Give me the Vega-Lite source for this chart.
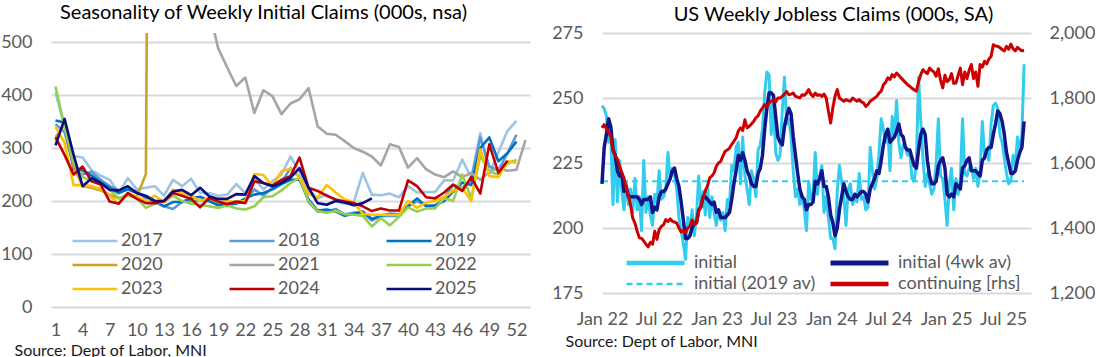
{
"$schema":"https://vega.github.io/schema/vega-lite/v6.json",
"background":"white",
"padding":{"left":0,"top":3,"right":0,"bottom":0},
"config":{"view":{"stroke":null},"font":"Lato",
"axis":{"labelFont":"Lato","labelFontSize":18,"labelColor":"#595959","titleFont":"Lato","domain":false,"ticks":false},
"legend":{"labelFont":"Lato","padding":0},
"title":{"font":"Lato","fontWeight":"normal","color":"#000000","fontSize":20}},
"datasets":{
"seasonal":[
{"year":"2017","week":1,"claims":405},{"year":"2017","week":2,"claims":340},{"year":"2017","week":3,"claims":285},{"year":"2017","week":4,"claims":282},{"year":"2017","week":5,"claims":258},{"year":"2017","week":6,"claims":248},{"year":"2017","week":7,"claims":240},{"year":"2017","week":8,"claims":215},{"year":"2017","week":9,"claims":243},{"year":"2017","week":10,"claims":222},{"year":"2017","week":11,"claims":225},{"year":"2017","week":12,"claims":228},{"year":"2017","week":13,"claims":210},{"year":"2017","week":14,"claims":240},{"year":"2017","week":15,"claims":228},{"year":"2017","week":16,"claims":242},{"year":"2017","week":17,"claims":215},{"year":"2017","week":18,"claims":215},{"year":"2017","week":19,"claims":210},{"year":"2017","week":20,"claims":212},{"year":"2017","week":21,"claims":232},{"year":"2017","week":22,"claims":215},{"year":"2017","week":23,"claims":242},{"year":"2017","week":24,"claims":222},{"year":"2017","week":25,"claims":237},{"year":"2017","week":26,"claims":250},{"year":"2017","week":27,"claims":284},{"year":"2017","week":28,"claims":255},{"year":"2017","week":29,"claims":220},{"year":"2017","week":30,"claims":205},{"year":"2017","week":31,"claims":212},{"year":"2017","week":32,"claims":200},{"year":"2017","week":33,"claims":195},{"year":"2017","week":34,"claims":198},{"year":"2017","week":35,"claims":253},{"year":"2017","week":36,"claims":212},{"year":"2017","week":37,"claims":211},{"year":"2017","week":38,"claims":214},{"year":"2017","week":39,"claims":207},{"year":"2017","week":40,"claims":228},{"year":"2017","week":41,"claims":216},{"year":"2017","week":42,"claims":217},{"year":"2017","week":43,"claims":217},{"year":"2017","week":44,"claims":239},{"year":"2017","week":45,"claims":239},{"year":"2017","week":46,"claims":278},{"year":"2017","week":47,"claims":244},{"year":"2017","week":48,"claims":328},{"year":"2017","week":49,"claims":251},{"year":"2017","week":50,"claims":292},{"year":"2017","week":51,"claims":332},{"year":"2017","week":52,"claims":351},
{"year":"2018","week":1,"claims":345},{"year":"2018","week":2,"claims":330},{"year":"2018","week":3,"claims":265},{"year":"2018","week":4,"claims":250},{"year":"2018","week":5,"claims":255},{"year":"2018","week":6,"claims":240},{"year":"2018","week":7,"claims":228},{"year":"2018","week":8,"claims":220},{"year":"2018","week":9,"claims":222},{"year":"2018","week":10,"claims":218},{"year":"2018","week":11,"claims":205},{"year":"2018","week":12,"claims":198},{"year":"2018","week":13,"claims":190},{"year":"2018","week":14,"claims":185},{"year":"2018","week":15,"claims":198},{"year":"2018","week":16,"claims":200},{"year":"2018","week":17,"claims":200},{"year":"2018","week":18,"claims":200},{"year":"2018","week":19,"claims":195},{"year":"2018","week":20,"claims":190},{"year":"2018","week":21,"claims":196},{"year":"2018","week":22,"claims":198},{"year":"2018","week":23,"claims":222},{"year":"2018","week":24,"claims":210},{"year":"2018","week":25,"claims":225},{"year":"2018","week":26,"claims":235},{"year":"2018","week":27,"claims":262},{"year":"2018","week":28,"claims":245},{"year":"2018","week":29,"claims":198},{"year":"2018","week":30,"claims":180},{"year":"2018","week":31,"claims":180},{"year":"2018","week":32,"claims":185},{"year":"2018","week":33,"claims":175},{"year":"2018","week":34,"claims":178},{"year":"2018","week":35,"claims":178},{"year":"2018","week":36,"claims":163},{"year":"2018","week":37,"claims":172},{"year":"2018","week":38,"claims":172},{"year":"2018","week":39,"claims":172},{"year":"2018","week":40,"claims":190},{"year":"2018","week":41,"claims":200},{"year":"2018","week":42,"claims":192},{"year":"2018","week":43,"claims":190},{"year":"2018","week":44,"claims":205},{"year":"2018","week":45,"claims":230},{"year":"2018","week":46,"claims":225},{"year":"2018","week":47,"claims":240},{"year":"2018","week":48,"claims":320},{"year":"2018","week":49,"claims":265},{"year":"2018","week":50,"claims":258},{"year":"2018","week":51,"claims":290},{"year":"2018","week":52,"claims":325},
{"year":"2019","week":1,"claims":352},{"year":"2019","week":2,"claims":348},{"year":"2019","week":3,"claims":260},{"year":"2019","week":4,"claims":258},{"year":"2019","week":5,"claims":248},{"year":"2019","week":6,"claims":235},{"year":"2019","week":7,"claims":225},{"year":"2019","week":8,"claims":215},{"year":"2019","week":9,"claims":222},{"year":"2019","week":10,"claims":215},{"year":"2019","week":11,"claims":210},{"year":"2019","week":12,"claims":200},{"year":"2019","week":13,"claims":190},{"year":"2019","week":14,"claims":198},{"year":"2019","week":15,"claims":198},{"year":"2019","week":16,"claims":205},{"year":"2019","week":17,"claims":208},{"year":"2019","week":18,"claims":200},{"year":"2019","week":19,"claims":192},{"year":"2019","week":20,"claims":195},{"year":"2019","week":21,"claims":195},{"year":"2019","week":22,"claims":205},{"year":"2019","week":23,"claims":212},{"year":"2019","week":24,"claims":215},{"year":"2019","week":25,"claims":222},{"year":"2019","week":26,"claims":232},{"year":"2019","week":27,"claims":240},{"year":"2019","week":28,"claims":240},{"year":"2019","week":29,"claims":203},{"year":"2019","week":30,"claims":182},{"year":"2019","week":31,"claims":184},{"year":"2019","week":32,"claims":180},{"year":"2019","week":33,"claims":172},{"year":"2019","week":34,"claims":176},{"year":"2019","week":35,"claims":180},{"year":"2019","week":36,"claims":166},{"year":"2019","week":37,"claims":172},{"year":"2019","week":38,"claims":176},{"year":"2019","week":39,"claims":175},{"year":"2019","week":40,"claims":190},{"year":"2019","week":41,"claims":205},{"year":"2019","week":42,"claims":190},{"year":"2019","week":43,"claims":192},{"year":"2019","week":44,"claims":200},{"year":"2019","week":45,"claims":218},{"year":"2019","week":46,"claims":235},{"year":"2019","week":47,"claims":230},{"year":"2019","week":48,"claims":300},{"year":"2019","week":49,"claims":320},{"year":"2019","week":50,"claims":275},{"year":"2019","week":51,"claims":290},{"year":"2019","week":52,"claims":312},
{"year":"2020","week":1,"claims":320},{"year":"2020","week":2,"claims":345},{"year":"2020","week":3,"claims":265},{"year":"2020","week":4,"claims":228},{"year":"2020","week":5,"claims":225},{"year":"2020","week":6,"claims":220},{"year":"2020","week":7,"claims":212},{"year":"2020","week":8,"claims":205},{"year":"2020","week":9,"claims":212},{"year":"2020","week":10,"claims":208},{"year":"2020","week":11,"claims":251},{"year":"2020","week":12,"claims":2920},
{"year":"2021","week":17,"claims":600},{"year":"2021","week":18,"claims":560},{"year":"2021","week":19,"claims":488},{"year":"2021","week":20,"claims":452},{"year":"2021","week":21,"claims":417},{"year":"2021","week":22,"claims":433},{"year":"2021","week":23,"claims":366},{"year":"2021","week":24,"claims":409},{"year":"2021","week":25,"claims":398},{"year":"2021","week":26,"claims":364},{"year":"2021","week":27,"claims":384},{"year":"2021","week":28,"claims":392},{"year":"2021","week":29,"claims":413},{"year":"2021","week":30,"claims":341},{"year":"2021","week":31,"claims":327},{"year":"2021","week":32,"claims":325},{"year":"2021","week":33,"claims":313},{"year":"2021","week":34,"claims":300},{"year":"2021","week":35,"claims":293},{"year":"2021","week":36,"claims":284},{"year":"2021","week":37,"claims":267},{"year":"2021","week":38,"claims":307},{"year":"2021","week":39,"claims":302},{"year":"2021","week":40,"claims":263},{"year":"2021","week":41,"claims":281},{"year":"2021","week":42,"claims":260},{"year":"2021","week":43,"claims":250},{"year":"2021","week":44,"claims":245},{"year":"2021","week":45,"claims":256},{"year":"2021","week":46,"claims":245},{"year":"2021","week":47,"claims":253},{"year":"2021","week":48,"claims":240},{"year":"2021","week":49,"claims":255},{"year":"2021","week":50,"claims":262},{"year":"2021","week":51,"claims":257},{"year":"2021","week":52,"claims":259},{"year":"2021","week":53,"claims":315},
{"year":"2022","week":1,"claims":416},{"year":"2022","week":2,"claims":340},{"year":"2022","week":3,"claims":275},{"year":"2022","week":4,"claims":245},{"year":"2022","week":5,"claims":238},{"year":"2022","week":6,"claims":232},{"year":"2022","week":7,"claims":222},{"year":"2022","week":8,"claims":205},{"year":"2022","week":9,"claims":210},{"year":"2022","week":10,"claims":205},{"year":"2022","week":11,"claims":187},{"year":"2022","week":12,"claims":195},{"year":"2022","week":13,"claims":198},{"year":"2022","week":14,"claims":210},{"year":"2022","week":15,"claims":200},{"year":"2022","week":16,"claims":195},{"year":"2022","week":17,"claims":193},{"year":"2022","week":18,"claims":190},{"year":"2022","week":19,"claims":187},{"year":"2022","week":20,"claims":192},{"year":"2022","week":21,"claims":186},{"year":"2022","week":22,"claims":184},{"year":"2022","week":23,"claims":190},{"year":"2022","week":24,"claims":207},{"year":"2022","week":25,"claims":209},{"year":"2022","week":26,"claims":220},{"year":"2022","week":27,"claims":234},{"year":"2022","week":28,"claims":244},{"year":"2022","week":29,"claims":200},{"year":"2022","week":30,"claims":181},{"year":"2022","week":31,"claims":178},{"year":"2022","week":32,"claims":181},{"year":"2022","week":33,"claims":175},{"year":"2022","week":34,"claims":174},{"year":"2022","week":35,"claims":172},{"year":"2022","week":36,"claims":152},{"year":"2022","week":37,"claims":168},{"year":"2022","week":38,"claims":154},{"year":"2022","week":39,"claims":170},{"year":"2022","week":40,"claims":188},{"year":"2022","week":41,"claims":180},{"year":"2022","week":42,"claims":186},{"year":"2022","week":43,"claims":186},{"year":"2022","week":44,"claims":205},{"year":"2022","week":45,"claims":200},{"year":"2022","week":46,"claims":250},{"year":"2022","week":47,"claims":205},{"year":"2022","week":48,"claims":285},{"year":"2022","week":49,"claims":255},{"year":"2022","week":50,"claims":250},{"year":"2022","week":51,"claims":270},{"year":"2022","week":52,"claims":278},
{"year":"2023","week":1,"claims":340},{"year":"2023","week":2,"claims":310},{"year":"2023","week":3,"claims":230},{"year":"2023","week":4,"claims":230},{"year":"2023","week":5,"claims":228},{"year":"2023","week":6,"claims":222},{"year":"2023","week":7,"claims":210},{"year":"2023","week":8,"claims":195},{"year":"2023","week":9,"claims":215},{"year":"2023","week":10,"claims":208},{"year":"2023","week":11,"claims":200},{"year":"2023","week":12,"claims":210},{"year":"2023","week":13,"claims":198},{"year":"2023","week":14,"claims":222},{"year":"2023","week":15,"claims":215},{"year":"2023","week":16,"claims":210},{"year":"2023","week":17,"claims":200},{"year":"2023","week":18,"claims":205},{"year":"2023","week":19,"claims":198},{"year":"2023","week":20,"claims":200},{"year":"2023","week":21,"claims":198},{"year":"2023","week":22,"claims":200},{"year":"2023","week":23,"claims":251},{"year":"2023","week":24,"claims":249},{"year":"2023","week":25,"claims":228},{"year":"2023","week":26,"claims":256},{"year":"2023","week":27,"claims":261},{"year":"2023","week":28,"claims":244},{"year":"2023","week":29,"claims":214},{"year":"2023","week":30,"claims":206},{"year":"2023","week":31,"claims":230},{"year":"2023","week":32,"claims":216},{"year":"2023","week":33,"claims":203},{"year":"2023","week":34,"claims":197},{"year":"2023","week":35,"claims":176},{"year":"2023","week":36,"claims":174},{"year":"2023","week":37,"claims":174},{"year":"2023","week":38,"claims":174},{"year":"2023","week":39,"claims":174},{"year":"2023","week":40,"claims":200},{"year":"2023","week":41,"claims":187},{"year":"2023","week":42,"claims":197},{"year":"2023","week":43,"claims":200},{"year":"2023","week":44,"claims":207},{"year":"2023","week":45,"claims":220},{"year":"2023","week":46,"claims":225},{"year":"2023","week":47,"claims":200},{"year":"2023","week":48,"claims":297},{"year":"2023","week":49,"claims":247},{"year":"2023","week":50,"claims":245},{"year":"2023","week":51,"claims":275},{"year":"2023","week":52,"claims":272},
{"year":"2024","week":1,"claims":320},{"year":"2024","week":2,"claims":287},{"year":"2024","week":3,"claims":250},{"year":"2024","week":4,"claims":265},{"year":"2024","week":5,"claims":237},{"year":"2024","week":6,"claims":231},{"year":"2024","week":7,"claims":199},{"year":"2024","week":8,"claims":195},{"year":"2024","week":9,"claims":215},{"year":"2024","week":10,"claims":204},{"year":"2024","week":11,"claims":196},{"year":"2024","week":12,"claims":196},{"year":"2024","week":13,"claims":200},{"year":"2024","week":14,"claims":215},{"year":"2024","week":15,"claims":210},{"year":"2024","week":16,"claims":204},{"year":"2024","week":17,"claims":188},{"year":"2024","week":18,"claims":206},{"year":"2024","week":19,"claims":199},{"year":"2024","week":20,"claims":194},{"year":"2024","week":21,"claims":199},{"year":"2024","week":22,"claims":196},{"year":"2024","week":23,"claims":237},{"year":"2024","week":24,"claims":234},{"year":"2024","week":25,"claims":229},{"year":"2024","week":26,"claims":240},{"year":"2024","week":27,"claims":247},{"year":"2024","week":28,"claims":282},{"year":"2024","week":29,"claims":225},{"year":"2024","week":30,"claims":219},{"year":"2024","week":31,"claims":210},{"year":"2024","week":32,"claims":203},{"year":"2024","week":33,"claims":199},{"year":"2024","week":34,"claims":196},{"year":"2024","week":35,"claims":190},{"year":"2024","week":36,"claims":181},{"year":"2024","week":37,"claims":186},{"year":"2024","week":38,"claims":182},{"year":"2024","week":39,"claims":182},{"year":"2024","week":40,"claims":239},{"year":"2024","week":41,"claims":228},{"year":"2024","week":42,"claims":207},{"year":"2024","week":43,"claims":205},{"year":"2024","week":44,"claims":216},{"year":"2024","week":45,"claims":231},{"year":"2024","week":46,"claims":219},{"year":"2024","week":47,"claims":245},{"year":"2024","week":48,"claims":214},{"year":"2024","week":49,"claims":307},{"year":"2024","week":50,"claims":253},{"year":"2024","week":51,"claims":276},
{"year":"2025","week":1,"claims":305},{"year":"2025","week":2,"claims":355},{"year":"2025","week":3,"claims":287},{"year":"2025","week":4,"claims":228},{"year":"2025","week":5,"claims":243},{"year":"2025","week":6,"claims":234},{"year":"2025","week":7,"claims":221},{"year":"2025","week":8,"claims":220},{"year":"2025","week":9,"claims":228},{"year":"2025","week":10,"claims":215},{"year":"2025","week":11,"claims":209},{"year":"2025","week":12,"claims":200},{"year":"2025","week":13,"claims":200},{"year":"2025","week":14,"claims":218},{"year":"2025","week":15,"claims":221},{"year":"2025","week":16,"claims":211},{"year":"2025","week":17,"claims":225},{"year":"2025","week":18,"claims":209},{"year":"2025","week":19,"claims":204},{"year":"2025","week":20,"claims":204},{"year":"2025","week":21,"claims":213},{"year":"2025","week":22,"claims":212},{"year":"2025","week":23,"claims":247},{"year":"2025","week":24,"claims":234},{"year":"2025","week":25,"claims":228},{"year":"2025","week":26,"claims":234},{"year":"2025","week":27,"claims":244},{"year":"2025","week":28,"claims":262},{"year":"2025","week":29,"claims":225},{"year":"2025","week":30,"claims":196},{"year":"2025","week":31,"claims":193},{"year":"2025","week":32,"claims":200},{"year":"2025","week":33,"claims":197},{"year":"2025","week":34,"claims":192},{"year":"2025","week":35,"claims":196},{"year":"2025","week":36,"claims":205}
],
"jobless":[
{"date":"2022-01-01","initial":247,"avg4":217,"cont":1708},{"date":"2022-01-08","initial":246,"avg4":231,"cont":1718},{"date":"2022-01-15","initial":243,"avg4":236,"cont":1705},{"date":"2022-01-22","initial":233,"avg4":242,"cont":1695},{"date":"2022-01-29","initial":235,"avg4":239,"cont":1680},{"date":"2022-02-05","initial":209,"avg4":230,"cont":1640},{"date":"2022-02-12","initial":234,"avg4":228,"cont":1622},{"date":"2022-02-19","initial":210,"avg4":222,"cont":1612},{"date":"2022-02-26","initial":226,"avg4":220,"cont":1590},{"date":"2022-03-05","initial":214,"avg4":221,"cont":1570},
{"date":"2022-03-12","initial":207,"avg4":214,"cont":1554},{"date":"2022-03-19","initial":218,"avg4":216,"cont":1523},{"date":"2022-03-26","initial":209,"avg4":212,"cont":1500},{"date":"2022-04-02","initial":215,"avg4":212,"cont":1470},{"date":"2022-04-09","initial":206,"avg4":212,"cont":1430},{"date":"2022-04-16","initial":219,"avg4":212,"cont":1415},{"date":"2022-04-23","initial":207,"avg4":212,"cont":1390},{"date":"2022-04-30","initial":212,"avg4":211,"cont":1370},{"date":"2022-05-07","initial":199,"avg4":209,"cont":1368},{"date":"2022-05-14","initial":226,"avg4":211,"cont":1360},
{"date":"2022-05-21","initial":206,"avg4":211,"cont":1350},{"date":"2022-05-28","initial":212,"avg4":211,"cont":1342},{"date":"2022-06-04","initial":205,"avg4":212,"cont":1356},{"date":"2022-06-11","initial":201,"avg4":206,"cont":1350},{"date":"2022-06-18","initial":213,"avg4":208,"cont":1390},{"date":"2022-06-25","initial":210,"avg4":207,"cont":1365},{"date":"2022-07-02","initial":222,"avg4":212,"cont":1395},{"date":"2022-07-09","initial":211,"avg4":214,"cont":1405},{"date":"2022-07-16","initial":212,"avg4":214,"cont":1410},{"date":"2022-07-23","initial":215,"avg4":215,"cont":1426},
{"date":"2022-07-30","initial":229,"avg4":217,"cont":1420},{"date":"2022-08-06","initial":219,"avg4":219,"cont":1428},{"date":"2022-08-13","initial":223,"avg4":222,"cont":1421},{"date":"2022-08-20","initial":220,"avg4":223,"cont":1418},{"date":"2022-08-27","initial":215,"avg4":219,"cont":1415},{"date":"2022-09-03","initial":204,"avg4":216,"cont":1400},{"date":"2022-09-10","initial":199,"avg4":210,"cont":1388},{"date":"2022-09-17","initial":194,"avg4":203,"cont":1392},{"date":"2022-09-24","initial":188,"avg4":196,"cont":1385},{"date":"2022-10-01","initial":204,"avg4":196,"cont":1400},
{"date":"2022-10-08","initial":200,"avg4":197,"cont":1405},{"date":"2022-10-15","initial":207,"avg4":200,"cont":1425},{"date":"2022-10-22","initial":197,"avg4":202,"cont":1410},{"date":"2022-10-29","initial":205,"avg4":202,"cont":1415},{"date":"2022-11-05","initial":220,"avg4":207,"cont":1451},{"date":"2022-11-12","initial":208,"avg4":208,"cont":1470},{"date":"2022-11-19","initial":214,"avg4":212,"cont":1492},{"date":"2022-11-26","initial":205,"avg4":212,"cont":1515},{"date":"2022-12-03","initial":216,"avg4":211,"cont":1530},{"date":"2022-12-10","initial":204,"avg4":210,"cont":1554},
{"date":"2022-12-17","initial":212,"avg4":209,"cont":1560},{"date":"2022-12-24","initial":206,"avg4":210,"cont":1570},{"date":"2022-12-31","initial":201,"avg4":206,"cont":1590},{"date":"2023-01-07","initial":207,"avg4":207,"cont":1600},{"date":"2023-01-14","initial":203,"avg4":204,"cont":1605},{"date":"2023-01-21","initial":206,"avg4":204,"cont":1621},{"date":"2023-01-28","initial":199,"avg4":204,"cont":1636},{"date":"2023-02-04","initial":211,"avg4":205,"cont":1640},{"date":"2023-02-11","initial":209,"avg4":206,"cont":1646},{"date":"2023-02-18","initial":224,"avg4":211,"cont":1657},
{"date":"2023-02-25","initial":222,"avg4":217,"cont":1667},{"date":"2023-03-04","initial":231,"avg4":222,"cont":1677},{"date":"2023-03-11","initial":233,"avg4":228,"cont":1698},{"date":"2023-03-18","initial":217,"avg4":226,"cont":1708},{"date":"2023-03-25","initial":235,"avg4":229,"cont":1700},{"date":"2023-04-01","initial":220,"avg4":226,"cont":1733},{"date":"2023-04-08","initial":215,"avg4":222,"cont":1708},{"date":"2023-04-15","initial":209,"avg4":220,"cont":1713},{"date":"2023-04-22","initial":222,"avg4":217,"cont":1720},{"date":"2023-04-29","initial":219,"avg4":216,"cont":1728},
{"date":"2023-05-06","initial":212,"avg4":216,"cont":1739},{"date":"2023-05-13","initial":230,"avg4":221,"cont":1745},{"date":"2023-05-20","initial":232,"avg4":223,"cont":1760},{"date":"2023-05-27","initial":238,"avg4":228,"cont":1769},{"date":"2023-06-03","initial":252,"avg4":238,"cont":1780},{"date":"2023-06-10","initial":260,"avg4":246,"cont":1772},{"date":"2023-06-17","initial":259,"avg4":252,"cont":1785},{"date":"2023-06-24","initial":236,"avg4":252,"cont":1790},{"date":"2023-07-01","initial":248,"avg4":251,"cont":1795},{"date":"2023-07-08","initial":229,"avg4":243,"cont":1788},
{"date":"2023-07-15","initial":226,"avg4":235,"cont":1800},{"date":"2023-07-22","initial":228,"avg4":233,"cont":1800},{"date":"2023-07-29","initial":245,"avg4":232,"cont":1805},{"date":"2023-08-05","initial":258,"avg4":239,"cont":1812},{"date":"2023-08-12","initial":240,"avg4":243,"cont":1820},{"date":"2023-08-19","initial":242,"avg4":246,"cont":1810},{"date":"2023-08-26","initial":235,"avg4":244,"cont":1812},{"date":"2023-09-02","initial":222,"avg4":235,"cont":1815},{"date":"2023-09-09","initial":212,"avg4":228,"cont":1805},{"date":"2023-09-16","initial":215,"avg4":221,"cont":1803},
{"date":"2023-09-23","initial":209,"avg4":215,"cont":1800},{"date":"2023-09-30","initial":213,"avg4":212,"cont":1810},{"date":"2023-10-07","initial":207,"avg4":211,"cont":1808},{"date":"2023-10-14","initial":199,"avg4":207,"cont":1815},{"date":"2023-10-21","initial":218,"avg4":209,"cont":1826},{"date":"2023-10-28","initial":211,"avg4":209,"cont":1812},{"date":"2023-11-04","initial":213,"avg4":210,"cont":1805},{"date":"2023-11-11","initial":229,"avg4":218,"cont":1815},{"date":"2023-11-18","initial":213,"avg4":217,"cont":1808},{"date":"2023-11-25","initial":220,"avg4":219,"cont":1810},
{"date":"2023-12-02","initial":224,"avg4":222,"cont":1805},{"date":"2023-12-09","initial":206,"avg4":216,"cont":1812},{"date":"2023-12-16","initial":212,"avg4":216,"cont":1800},{"date":"2023-12-23","initial":204,"avg4":212,"cont":1759},{"date":"2023-12-30","initial":196,"avg4":205,"cont":1723},{"date":"2024-01-06","initial":196,"avg4":202,"cont":1770},{"date":"2024-01-13","initial":192,"avg4":197,"cont":1805},{"date":"2024-01-20","initial":214,"avg4":200,"cont":1826},{"date":"2024-01-27","initial":224,"avg4":207,"cont":1800},{"date":"2024-02-03","initial":218,"avg4":212,"cont":1795},
{"date":"2024-02-10","initial":212,"avg4":217,"cont":1790},{"date":"2024-02-17","initial":201,"avg4":214,"cont":1795},{"date":"2024-02-24","initial":215,"avg4":212,"cont":1792},{"date":"2024-03-02","initial":217,"avg4":211,"cont":1790},{"date":"2024-03-09","initial":209,"avg4":211,"cont":1800},{"date":"2024-03-16","initial":212,"avg4":213,"cont":1795},{"date":"2024-03-23","initial":210,"avg4":212,"cont":1790},{"date":"2024-03-30","initial":221,"avg4":213,"cont":1795},{"date":"2024-04-06","initial":211,"avg4":214,"cont":1788},{"date":"2024-04-13","initial":212,"avg4":214,"cont":1785},
{"date":"2024-04-20","initial":207,"avg4":213,"cont":1774},{"date":"2024-04-27","initial":208,"avg4":210,"cont":1780},{"date":"2024-05-04","initial":231,"avg4":215,"cont":1790},{"date":"2024-05-11","initial":222,"avg4":217,"cont":1795},{"date":"2024-05-18","initial":215,"avg4":219,"cont":1800},{"date":"2024-05-25","initial":219,"avg4":222,"cont":1805},{"date":"2024-06-01","initial":229,"avg4":221,"cont":1815},{"date":"2024-06-08","initial":242,"avg4":226,"cont":1821},{"date":"2024-06-15","initial":238,"avg4":232,"cont":1841},{"date":"2024-06-22","initial":233,"avg4":236,"cont":1848},
{"date":"2024-06-29","initial":238,"avg4":238,"cont":1862},{"date":"2024-07-06","initial":222,"avg4":233,"cont":1857},{"date":"2024-07-13","initial":243,"avg4":234,"cont":1872},{"date":"2024-07-20","initial":235,"avg4":235,"cont":1865},{"date":"2024-07-27","initial":249,"avg4":237,"cont":1877},{"date":"2024-08-03","initial":233,"avg4":240,"cont":1870},{"date":"2024-08-10","initial":227,"avg4":236,"cont":1862},{"date":"2024-08-17","initial":232,"avg4":235,"cont":1855},{"date":"2024-08-24","initial":231,"avg4":231,"cont":1848},{"date":"2024-08-31","initial":228,"avg4":230,"cont":1841},
{"date":"2024-09-07","initial":230,"avg4":230,"cont":1836},{"date":"2024-09-14","initial":219,"avg4":227,"cont":1830},{"date":"2024-09-21","initial":218,"avg4":224,"cont":1825},{"date":"2024-09-28","initial":225,"avg4":223,"cont":1821},{"date":"2024-10-05","initial":258,"avg4":230,"cont":1850},{"date":"2024-10-12","initial":241,"avg4":236,"cont":1872},{"date":"2024-10-19","initial":227,"avg4":238,"cont":1887},{"date":"2024-10-26","initial":216,"avg4":236,"cont":1880},{"date":"2024-11-02","initial":221,"avg4":226,"cont":1875},{"date":"2024-11-09","initial":217,"avg4":220,"cont":1892},
{"date":"2024-11-16","initial":213,"avg4":217,"cont":1885},{"date":"2024-11-23","initial":215,"avg4":217,"cont":1880},{"date":"2024-11-30","initial":225,"avg4":218,"cont":1867},{"date":"2024-12-07","initial":242,"avg4":224,"cont":1890},{"date":"2024-12-14","initial":220,"avg4":226,"cont":1855},{"date":"2024-12-21","initial":219,"avg4":227,"cont":1831},{"date":"2024-12-28","initial":211,"avg4":223,"cont":1870},{"date":"2025-01-04","initial":201,"avg4":213,"cont":1850},{"date":"2025-01-11","initial":217,"avg4":212,"cont":1857},{"date":"2025-01-18","initial":223,"avg4":213,"cont":1875},
{"date":"2025-01-25","initial":207,"avg4":212,"cont":1845},{"date":"2025-02-01","initial":219,"avg4":217,"cont":1846},{"date":"2025-02-08","initial":213,"avg4":216,"cont":1870},{"date":"2025-02-15","initial":219,"avg4":215,"cont":1892},{"date":"2025-02-22","initial":242,"avg4":223,"cont":1841},{"date":"2025-03-01","initial":221,"avg4":224,"cont":1880},{"date":"2025-03-08","initial":220,"avg4":226,"cont":1860},{"date":"2025-03-15","initial":223,"avg4":227,"cont":1885},{"date":"2025-03-22","initial":224,"avg4":222,"cont":1903},{"date":"2025-03-29","initial":219,"avg4":222,"cont":1860},
{"date":"2025-04-05","initial":223,"avg4":222,"cont":1880},{"date":"2025-04-12","initial":216,"avg4":221,"cont":1836},{"date":"2025-04-19","initial":222,"avg4":220,"cont":1903},{"date":"2025-04-26","initial":241,"avg4":226,"cont":1895},{"date":"2025-05-03","initial":228,"avg4":227,"cont":1913},{"date":"2025-05-10","initial":229,"avg4":230,"cont":1905},{"date":"2025-05-17","initial":226,"avg4":231,"cont":1920},{"date":"2025-05-24","initial":240,"avg4":231,"cont":1928},{"date":"2025-05-31","initial":247,"avg4":236,"cont":1964},{"date":"2025-06-07","initial":248,"avg4":240,"cont":1960},
{"date":"2025-06-14","initial":246,"avg4":245,"cont":1959},{"date":"2025-06-21","initial":236,"avg4":244,"cont":1955},{"date":"2025-06-28","initial":233,"avg4":241,"cont":1949},{"date":"2025-07-05","initial":227,"avg4":236,"cont":1945},{"date":"2025-07-12","initial":221,"avg4":229,"cont":1959},{"date":"2025-07-19","initial":217,"avg4":225,"cont":1950},{"date":"2025-07-26","initial":218,"avg4":221,"cont":1966},{"date":"2025-08-02","initial":228,"avg4":221,"cont":1951},{"date":"2025-08-09","initial":224,"avg4":222,"cont":1945},{"date":"2025-08-16","initial":235,"avg4":226,"cont":1956},
{"date":"2025-08-23","initial":229,"avg4":229,"cont":1950},{"date":"2025-08-30","initial":236,"avg4":231,"cont":1945},{"date":"2025-09-06","initial":263,"avg4":241,"cont":1946}
],
"avg2019":[{"date":"2022-01-01","level":218},{"date":"2025-09-06","level":218}]
},
"concat":[
{
"width":479,"height":274,
"title":{"text":"Seasonality of Weekly Initial Claims (000s, nsa)","anchor":"middle","dx":-27,"offset":10},
"data":{"name":"seasonal"},
"mark":{"type":"line","clip":true,"strokeJoin":"round"},
"encoding":{
"x":{"field":"week","type":"quantitative","scale":{"domain":[0.5,53.5],"nice":false,"zero":false},
"axis":{"values":[1,4,7,10,13,16,19,22,25,28,31,34,37,40,43,46,49,52],"grid":false,"labelPadding":14,"labelFlush":false,"labelOverlap":false,
"title":"Source: Dept of Labor, MNI","titleFontSize":16,"titleFontWeight":"normal","titleColor":"#1a1a1a","titleAnchor":"start","titleAlign":"left","titleBaseline":"middle","titleX":-37,"titleY":43}},
"y":{"field":"claims","type":"quantitative","scale":{"domain":[0,517],"nice":false},
"axis":{"values":[0,100,200,300,400,500],"grid":true,"gridColor":"#D9D9D9","gridWidth":2,"labelPadding":19,"title":null}},
"color":{"field":"year","type":"nominal",
"scale":{"domain":["2017","2018","2019","2020","2021","2022","2023","2024","2025"],"range":["#9DC3E6","#5B9BD5","#0070C0","#C9A227","#A5A5A5","#92D050","#FFC000","#C00000","#0C0C80"]},
"legend":{"orient":"none","legendX":20,"legendY":197,"columns":3,"direction":"horizontal","title":null,"symbolType":"stroke","symbolSize":2025,"symbolStrokeWidth":3.5,"clipHeight":22,"rowPadding":2,"columnPadding":65,"labelFontSize":18,"labelColor":"#595959","labelOffset":2,
"encode":{"symbols":{"update":{"strokeWidth":{"signal":"datum.value === '2025' ? 6 : 3.5"}}}}}},
"strokeWidth":{"field":"year","type":"ordinal","scale":{"domain":["2017","2018","2019","2020","2021","2022","2023","2024","2025"],"range":[2.6,2.6,2.6,2.6,2.6,2.6,2.6,2.8,4.6]},"legend":null}
}
},
{
"width":429,"height":260,
"title":{"text":"US Weekly Jobless Claims (000s, SA)","anchor":"middle","dx":17,"offset":-1},
"data":{"name":"jobless"},
"encoding":{"x":{"field":"date","type":"temporal",
"scale":{"type":"utc","domain":[{"year":2022,"month":1,"date":1,"utc":true},{"year":2025,"month":9,"date":28,"utc":true}]},
"axis":{"values":[{"year":2022,"month":1,"date":1,"utc":true},{"year":2022,"month":7,"date":1,"utc":true},{"year":2023,"month":1,"date":1,"utc":true},{"year":2023,"month":7,"date":1,"utc":true},{"year":2024,"month":1,"date":1,"utc":true},{"year":2024,"month":7,"date":1,"utc":true},{"year":2025,"month":1,"date":1,"utc":true},{"year":2025,"month":7,"date":1,"utc":true}],
"format":"%b %y","grid":false,"labelPadding":17,"labelFlush":false,"labelOverlap":false,
"title":"Source: Dept of Labor, MNI","titleFontSize":16,"titleFontWeight":"normal","titleColor":"#1a1a1a","titleAnchor":"start","titleAlign":"left","titleBaseline":"middle","titleX":-37,"titleY":48}}},
"layer":[
{"layer":[
{"mark":{"type":"line","strokeWidth":3,"strokeJoin":"round"},
"encoding":{"y":{"field":"initial","type":"quantitative","scale":{"domain":[175,275],"nice":false,"zero":false},
"axis":{"values":[175,200,225,250,275],"grid":true,"gridColor":"#D9D9D9","gridWidth":2,"labelPadding":19,"title":null}},
"color":{"datum":"initial","scale":{"domain":["initial","initial (4wk av)","initial (2019 av)","continuing [rhs]"],"range":["#33CCEE","#10168A","#33CCEE","#CC0000"]},
"legend":{"orient":"none","legendX":22,"legendY":220,"columns":2,"direction":"horizontal","title":null,"symbolType":"stroke","symbolSize":3364,"symbolStrokeWidth":4.5,"clipHeight":20,"rowPadding":1,"columnPadding":12,"labelFontSize":18,"labelColor":"#595959","labelOffset":7,
"encode":{"symbols":{"update":{"strokeDash":{"signal":"datum.value === 'initial (2019 av)' ? [6,4] : [1,0]"},"strokeWidth":{"signal":"(datum.value === 'initial (2019 av)' ? 2.5 : (datum.value === 'initial (4wk av)' ? 5 : 4.5))"}}}}}}}},
{"data":{"name":"avg2019"},"mark":{"type":"line","strokeWidth":2,"strokeDash":[6,4]},
"encoding":{"y":{"field":"level","type":"quantitative"},"color":{"datum":"initial (2019 av)"}}},
{"mark":{"type":"line","strokeWidth":3.5,"strokeJoin":"round"},
"encoding":{"y":{"field":"avg4","type":"quantitative"},"color":{"datum":"initial (4wk av)"}}}
]},
{"mark":{"type":"line","strokeWidth":3,"strokeJoin":"round"},
"encoding":{"y":{"field":"cont","type":"quantitative","scale":{"domain":[1200,2000],"nice":false,"zero":false},
"axis":{"orient":"right","values":[1200,1400,1600,1800,2000],"format":",d","grid":false,"labelPadding":18,"title":null}},
"color":{"datum":"continuing [rhs]"}}}
],
"resolve":{"scale":{"y":"independent"}}
}
],
"columns":2,
"align":"none",
"spacing":21,
"resolve":{"scale":{"color":"independent","strokeWidth":"independent"},"legend":{"color":"independent"}}
}
